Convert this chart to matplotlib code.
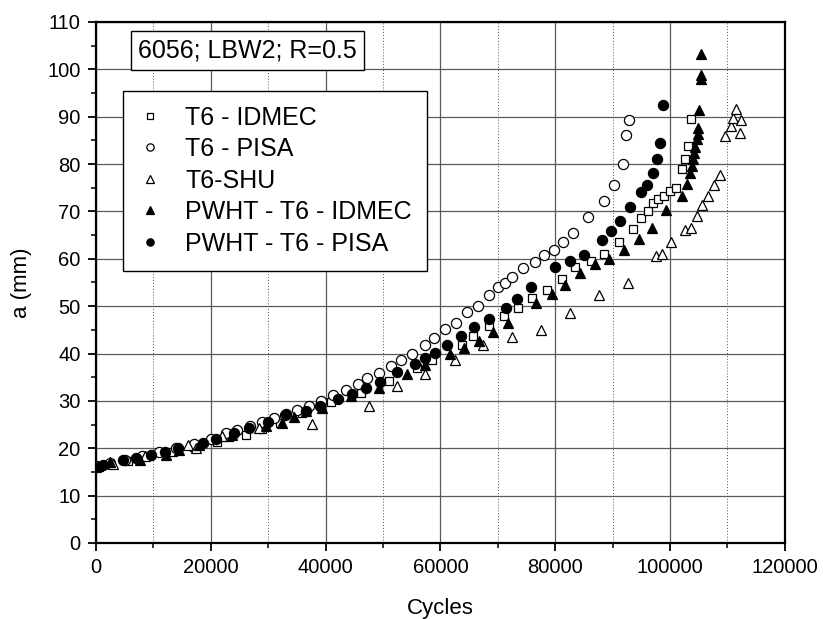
import matplotlib
matplotlib.use("Agg")
import matplotlib.pyplot as plt
from matplotlib.ticker import MultipleLocator

plt.rcParams['font.family'] = ['Liberation Sans', 'DejaVu Sans']

# crack length a (mm) against cycles, weld LBW2 in 6056, R = 0.5
t6_idmec_x = [0, 2500, 5500, 9000, 13400, 17000, 21000, 23200, 26100, 29000, 32000,
              35968, 41000, 46200, 51060, 55960, 58550, 63700, 65759, 68489, 71104,
              73602, 76043, 78541, 81155, 83479, 86268, 88534, 91149, 93473, 94983,
              96145, 96959, 97900, 99017, 100000, 101040, 102023, 102601, 103063, 103641]
t6_idmec_a = [16.0, 16.7, 17.4, 18.3, 19.3, 20.3, 21.4, 22.4, 22.8, 24.0, 25.4,
              27.5, 29.7, 31.7, 34.2, 37.0, 38.7, 41.9, 43.8, 45.8, 47.9,
              49.6, 51.7, 53.5, 55.8, 58.3, 59.5, 61.1, 63.5, 66.2, 68.6,
              70.0, 71.8, 72.6, 73.2, 74.3, 75.0, 79.0, 81.0, 83.8, 89.6]

t6_pisa_x = [0, 2500, 5000, 8000, 11000, 14000, 17000, 20000, 22620, 24640, 26800,
             28970, 30980, 33000, 35104, 37120, 39250, 41270, 43570, 45590, 47300,
             49330, 51350, 53070, 55090, 57280, 58893, 60736, 62637, 64653, 66514,
             68489, 70116, 71278, 72440, 74474, 76507, 78134, 79819, 81446, 83073,
             85687, 88534, 90161, 91840, 92415, 92818]
t6_pisa_a = [16.2, 16.9, 17.6, 18.4, 19.3, 20.1, 21.0, 22.0, 23.2, 23.9, 24.8,
             25.6, 26.3, 27.0, 28.1, 29.0, 30.0, 31.2, 32.4, 33.6, 34.8,
             35.9, 37.3, 38.6, 40.0, 41.7, 43.3, 45.1, 46.5, 48.7, 50.0,
             52.3, 54.0, 54.8, 56.1, 58.1, 59.4, 60.7, 61.9, 63.5, 65.5,
             68.8, 72.3, 75.5, 80.1, 86.1, 89.2]

t6_shu_x = [0, 3000, 8480, 15980, 17430, 22000, 28390, 37700, 47600, 52500, 57400,
            62460, 67502, 72440, 77495, 82608, 87547, 92659, 97572, 98555, 100116,
            102601, 103641, 104624, 105607, 106647, 107687, 108670, 109653, 110578,
            110982, 111560, 112138, 112311]
t6_shu_a = [16.0, 16.6, 18.3, 20.7, 20.0, 22.5, 24.2, 25.1, 29.0, 33.1, 35.6,
            38.7, 41.9, 43.5, 44.9, 48.6, 52.3, 54.9, 60.6, 61.1, 63.5,
            66.1, 66.5, 69.0, 71.3, 73.2, 75.5, 77.6, 85.9, 88.0,
            89.8, 91.7, 86.5, 89.4]

pwht_idmec_x = [400, 2420, 7600, 12230, 14540, 18000, 23770, 29540, 32430, 34528,
                36660, 39420, 44430, 49330, 54230, 57280, 61700, 64190, 66746, 69245,
                71743, 76681, 79412, 81736, 84351, 86849, 89289, 91904, 94518, 96843,
                99306, 102023, 102890, 103468, 103757, 103930, 104162, 104335, 104624,
                104797, 104913, 105086, 105318, 105318, 105353]
pwht_idmec_a = [16.3, 17.2, 17.6, 18.6, 19.7, 20.7, 22.8, 24.6, 25.3, 26.5,
                27.9, 28.6, 31.0, 32.8, 35.6, 37.5, 39.8, 41.2, 42.6, 44.5,
                46.5, 50.6, 52.5, 54.4, 56.9, 58.8, 60.0, 61.9, 64.2, 66.5,
                70.2, 73.2, 75.7, 78.2, 79.6, 81.0, 82.3, 83.5, 85.2,
                86.3, 87.7, 91.4, 97.9, 98.7, 103.2]

pwht_pisa_x = [1269, 4731, 7039, 9636, 11943, 14250, 18579, 20888, 24060, 26660,
               30000, 33088, 36544, 38963, 42130, 44600, 47000, 49500, 52500, 55550,
               57280, 59000, 61100, 63616, 65920, 68489, 71394, 73312, 75810, 79993,
               82608, 84932, 88127, 89754, 91323, 93066, 94983, 95971, 97017, 97714,
               98266, 98844]
pwht_pisa_a = [16.5, 17.6, 17.9, 18.6, 19.3, 20.0, 21.2, 21.9, 23.2, 24.2,
               25.5, 27.2, 27.9, 28.9, 30.3, 31.4, 32.8, 34.0, 36.0, 37.8,
               39.1, 40.1, 41.7, 43.8, 45.6, 47.2, 49.6, 51.6, 54.0, 58.3,
               59.5, 60.9, 63.9, 65.8, 67.9, 70.9, 74.2, 75.6, 78.1, 81.1,
               84.4, 92.5]

fig = plt.figure(figsize=(8.23, 6.19), dpi=100)
ax = fig.add_axes([0.1166, 0.1228, 0.837, 0.8417])

mew = 0.9
ax.plot(t6_idmec_x, t6_idmec_a, 's', ms=6.3, mfc='white', mec='black', mew=mew,
        label='T6 - IDMEC')
ax.plot(t6_pisa_x, t6_pisa_a, 'o', ms=7.3, mfc='white', mec='black', mew=mew,
        label='T6 - PISA')
ax.plot(t6_shu_x, t6_shu_a, '^', ms=7.8, mfc='white', mec='black', mew=mew,
        label='T6-SHU')
ax.plot(pwht_idmec_x, pwht_idmec_a, '^', ms=7.8, mfc='black', mec='black', mew=mew,
        label='PWHT - T6 - IDMEC')
ax.plot(pwht_pisa_x, pwht_pisa_a, 'o', ms=7.3, mfc='black', mec='black', mew=mew,
        label='PWHT - T6 - PISA')

ax.set_xlim(0, 120000)
ax.set_ylim(0, 110)
ax.xaxis.set_major_locator(MultipleLocator(20000))
ax.xaxis.set_minor_locator(MultipleLocator(10000))
ax.yaxis.set_major_locator(MultipleLocator(10))
ax.yaxis.set_minor_locator(MultipleLocator(5))

# solid major grid, dotted verticals at the odd 10000s
ax.grid(which='major', color='#5a5a5a', linestyle='-', linewidth=0.9)
for xv in range(10000, 120000, 20000):
    ax.axvline(xv, color='#505050', linestyle=(0, (1, 2)), linewidth=0.7, zorder=0.5)
ax.set_axisbelow(True)

for s in ax.spines.values():
    s.set_linewidth(1.6)
ax.tick_params(which='major', direction='out', length=6, width=1.3, labelsize=14.5,
               pad=5, top=False, right=False)
ax.tick_params(which='minor', direction='out', length=3.5, width=1.1,
               top=False, right=False)

ax.set_xlabel('Cycles', fontsize=16, labelpad=15)
ax.set_ylabel('a (mm)', fontsize=16, labelpad=11)

ax.text(0.22, 0.946, '6056; LBW2; R=0.5', transform=ax.transAxes, fontsize=18,
        ha='center', va='center',
        bbox=dict(boxstyle='square,pad=0.3', fc='white', ec='black', lw=1))

leg = ax.legend(loc='upper left', bbox_to_anchor=(0.0387, 0.868), borderaxespad=0,
                fontsize=18, markerscale=0.72, handlelength=1.0, handletextpad=0.9,
                labelspacing=0.3, borderpad=0.6, fancybox=False, framealpha=1,
                edgecolor='black')
leg.get_frame().set_linewidth(1.0)

fig.savefig('out.png', dpi=100)
